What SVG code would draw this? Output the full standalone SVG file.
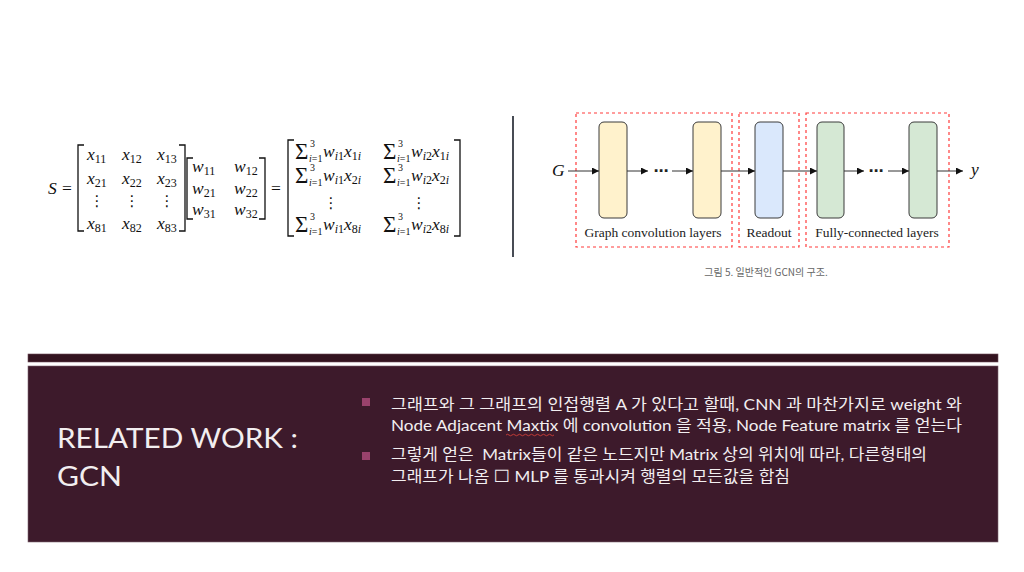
<svg xmlns="http://www.w3.org/2000/svg" width="1024" height="572" viewBox="0 0 1024 572">
<defs>
<style>
.m{font-family:"Liberation Serif","DejaVu Serif",serif;font-size:17.5px;fill:#111;}
.mi{font-style:italic;}
.sb{font-size:12px;font-style:normal;}
.sbi{font-size:12px;font-style:italic;}
.sg{font-family:"Liberation Serif","DejaVu Serif",serif;font-size:23px;fill:#111;}
.sm{font-family:"Liberation Serif",serif;font-size:10px;fill:#111;}
.vd{font-family:"DejaVu Sans",sans-serif;font-size:15px;fill:#111;text-anchor:middle;}
.br{fill:none;stroke:#111;stroke-width:1.3;}
.box{fill:none;stroke:#ff3b3b;stroke-width:1.2;stroke-dasharray:3 3;}
.nd{stroke:#3a3a3a;stroke-width:1;}
.cn{stroke:#333;stroke-width:1;fill:none;marker-end:url(#ah);}
.lbl{font-family:"Liberation Serif",serif;font-size:13.5px;fill:#222;text-anchor:middle;}
.dots{font-family:"DejaVu Sans",sans-serif;font-size:15px;font-weight:bold;fill:#222;text-anchor:middle;}
.body{font-family:Lato,"Noto Sans CJK KR",sans-serif;font-size:16px;fill:#f2eef0;}
.title{font-family:Lato,"Open Sans",sans-serif;font-size:26px;fill:#f2eef0;}
</style>
<marker id="ah" viewBox="0 0 10 10" refX="10" refY="5" markerWidth="7" markerHeight="7" markerUnits="userSpaceOnUse" orient="auto">
<path d="M0,0 L10,5 L0,10 z" fill="#111"/>
</marker>
</defs>
<rect x="0" y="0" width="1024" height="572" fill="#ffffff"/>

<!-- Matrix equation -->
<g id="equation">
<text class="m mi" x="48" y="194">S</text>
<text class="m" x="62" y="194">=</text>
<path class="br" d="M84,145 H78 V231 H84"/>
<path class="br" d="M179,145 H185 V231 H179"/>
<text class="m mi" x="87" y="160">x<tspan class="sb" dy="3">11</tspan></text>
<text class="m mi" x="122" y="160">x<tspan class="sb" dy="3">12</tspan></text>
<text class="m mi" x="157" y="160">x<tspan class="sb" dy="3">13</tspan></text>
<text class="m mi" x="87" y="184">x<tspan class="sb" dy="3">21</tspan></text>
<text class="m mi" x="122" y="184">x<tspan class="sb" dy="3">22</tspan></text>
<text class="m mi" x="157" y="184">x<tspan class="sb" dy="3">23</tspan></text>
<text class="vd" x="97" y="206">⋮</text>
<text class="vd" x="132" y="206">⋮</text>
<text class="vd" x="167" y="206">⋮</text>
<text class="m mi" x="87" y="229">x<tspan class="sb" dy="3">81</tspan></text>
<text class="m mi" x="122" y="229">x<tspan class="sb" dy="3">82</tspan></text>
<text class="m mi" x="157" y="229">x<tspan class="sb" dy="3">83</tspan></text>
<path class="br" d="M193,158 H187 V219 H193"/>
<path class="br" d="M259,158 H265 V219 H259"/>
<text class="m mi" x="192" y="172">w<tspan class="sb" dy="3">11</tspan></text>
<text class="m mi" x="234" y="172">w<tspan class="sb" dy="3">12</tspan></text>
<text class="m mi" x="192" y="194">w<tspan class="sb" dy="3">21</tspan></text>
<text class="m mi" x="234" y="194">w<tspan class="sb" dy="3">22</tspan></text>
<text class="m mi" x="192" y="215">w<tspan class="sb" dy="3">31</tspan></text>
<text class="m mi" x="234" y="215">w<tspan class="sb" dy="3">32</tspan></text>
<text class="m" x="271" y="194">=</text>
<path class="br" d="M294,140 H288 V236 H294"/>
<path class="br" d="M454,140 H460 V236 H454"/>
<!-- row 1 -->
<text class="sg" x="295" y="159">Σ</text><text class="sm" x="310" y="147">3</text><text class="sm" x="309" y="162"><tspan font-style="italic">i</tspan>=1</text>
<text class="m mi" x="323" y="157">w<tspan class="sbi" dy="3">i</tspan><tspan class="sb">1</tspan><tspan dy="-3">x</tspan><tspan class="sb" dy="3">1</tspan><tspan class="sbi">i</tspan></text>
<text class="sg" x="383" y="159">Σ</text><text class="sm" x="398" y="147">3</text><text class="sm" x="397" y="162"><tspan font-style="italic">i</tspan>=1</text>
<text class="m mi" x="411" y="157">w<tspan class="sbi" dy="3">i</tspan><tspan class="sb">2</tspan><tspan dy="-3">x</tspan><tspan class="sb" dy="3">1</tspan><tspan class="sbi">i</tspan></text>
<!-- row 2 -->
<text class="sg" x="295" y="183">Σ</text><text class="sm" x="310" y="171">3</text><text class="sm" x="309" y="186"><tspan font-style="italic">i</tspan>=1</text>
<text class="m mi" x="323" y="181">w<tspan class="sbi" dy="3">i</tspan><tspan class="sb">1</tspan><tspan dy="-3">x</tspan><tspan class="sb" dy="3">2</tspan><tspan class="sbi">i</tspan></text>
<text class="sg" x="383" y="183">Σ</text><text class="sm" x="398" y="171">3</text><text class="sm" x="397" y="186"><tspan font-style="italic">i</tspan>=1</text>
<text class="m mi" x="411" y="181">w<tspan class="sbi" dy="3">i</tspan><tspan class="sb">2</tspan><tspan dy="-3">x</tspan><tspan class="sb" dy="3">2</tspan><tspan class="sbi">i</tspan></text>
<text class="vd" x="331" y="208">⋮</text>
<text class="vd" x="419" y="208">⋮</text>
<!-- row 4 -->
<text class="sg" x="295" y="232">Σ</text><text class="sm" x="310" y="220">3</text><text class="sm" x="309" y="235"><tspan font-style="italic">i</tspan>=1</text>
<text class="m mi" x="323" y="230">w<tspan class="sbi" dy="3">i</tspan><tspan class="sb">1</tspan><tspan dy="-3">x</tspan><tspan class="sb" dy="3">8</tspan><tspan class="sbi">i</tspan></text>
<text class="sg" x="383" y="232">Σ</text><text class="sm" x="398" y="220">3</text><text class="sm" x="397" y="235"><tspan font-style="italic">i</tspan>=1</text>
<text class="m mi" x="411" y="230">w<tspan class="sbi" dy="3">i</tspan><tspan class="sb">2</tspan><tspan dy="-3">x</tspan><tspan class="sb" dy="3">8</tspan><tspan class="sbi">i</tspan></text>
</g>

<line x1="513" y1="116" x2="513" y2="257" stroke="#1a1f2a" stroke-width="1.6"/>

<!-- GCN structure -->
<g id="groups">
<rect class="box" x="576" y="113" width="156" height="134"/>
<rect class="box" x="739" y="113" width="60" height="134"/>
<rect class="box" x="806" y="113" width="143" height="134"/>
</g>
<g id="node-gc1"><rect class="nd" x="599" y="122" width="28" height="96" rx="5" fill="#fff2cc"/></g>
<g id="node-gc2"><rect class="nd" x="693" y="122" width="28" height="96" rx="5" fill="#fff2cc"/></g>
<g id="node-readout"><rect class="nd" x="755" y="122" width="28" height="96" rx="5" fill="#dae8fc"/></g>
<g id="node-fc1"><rect class="nd" x="817" y="122" width="27" height="96" rx="5" fill="#d5e8d4"/></g>
<g id="node-fc2"><rect class="nd" x="909" y="122" width="28" height="96" rx="5" fill="#d5e8d4"/></g>
<g id="connectors">
<line class="cn" x1="568" y1="171" x2="599" y2="171"/>
<line class="cn" x1="627" y1="171" x2="648" y2="171"/>
<line class="cn" x1="672" y1="171" x2="693" y2="171"/>
<line class="cn" x1="721" y1="171" x2="755" y2="171"/>
<line class="cn" x1="783" y1="171" x2="817" y2="171"/>
<line class="cn" x1="844" y1="171" x2="864" y2="171"/>
<line class="cn" x1="888" y1="171" x2="909" y2="171"/>
<line class="cn" x1="937" y1="171" x2="963" y2="171"/>
</g>
<g id="labels">
<text class="m mi" x="552" y="176" font-size="15">G</text>
<text class="m mi" x="971" y="175" font-size="15">y</text>
<text class="dots" x="661" y="176">⋯</text>
<text class="dots" x="876" y="176">⋯</text>
<text class="lbl" x="653" y="237">Graph convolution layers</text>
<text class="lbl" x="769" y="237">Readout</text>
<text class="lbl" x="877" y="237">Fully-connected layers</text>
<text x="766" y="276" font-family="'Noto Sans CJK KR',sans-serif" font-size="10" fill="#666" text-anchor="middle">그림 5. 일반적인 GCN의 구조.</text>
</g>

<!-- Slide band -->
<rect x="28" y="354" width="970" height="8" fill="#33131f" stroke="#6b4a58" stroke-width="0.6"/>
<rect x="28" y="366" width="970" height="176" fill="#3d1a2b" stroke="#7d6470" stroke-width="0.6"/>
<text class="title" x="57" y="448" textLength="241" lengthAdjust="spacingAndGlyphs">RELATED WORK :</text>
<text class="title" x="57" y="486" textLength="65" lengthAdjust="spacingAndGlyphs">GCN</text>
<rect x="362" y="398" width="8" height="8" fill="#9a426c"/>
<rect x="362" y="452" width="8" height="8" fill="#9a426c"/>
<text class="body" x="391" y="410" textLength="571" lengthAdjust="spacingAndGlyphs">그래프와 그 그래프의 인접행렬 A 가 있다고 할때, CNN 과 마찬가지로 weight 와</text>
<text class="body" x="391" y="431" textLength="571" lengthAdjust="spacingAndGlyphs">Node Adjacent Maxtix 에 convolution 을 적용, Node Feature matrix 를 얻는다</text>
<path d="M506,435 q1.5,-1.5 3,0 t3,0 t3,0 t3,0 t3,0 t3,0 t3,0 t3,0 t3,0 t3,0 t3,0 t3,0 t3,0 t3,0 t3,0 t3,0" fill="none" stroke="#e0433a" stroke-width="0.8"/>
<text class="body" x="391" y="460" textLength="536" lengthAdjust="spacingAndGlyphs" xml:space="preserve">그렇게 얻은  Matrix들이 같은 노드지만 Matrix 상의 위치에 따라, 다른형태의</text>
<text class="body" x="391" y="482" textLength="399" lengthAdjust="spacingAndGlyphs">그래프가 나옴 <tspan font-family="'DejaVu Sans',sans-serif" font-size="17">☐</tspan> MLP 를 통과시켜 행렬의 모든값을 합침</text>
</svg>
